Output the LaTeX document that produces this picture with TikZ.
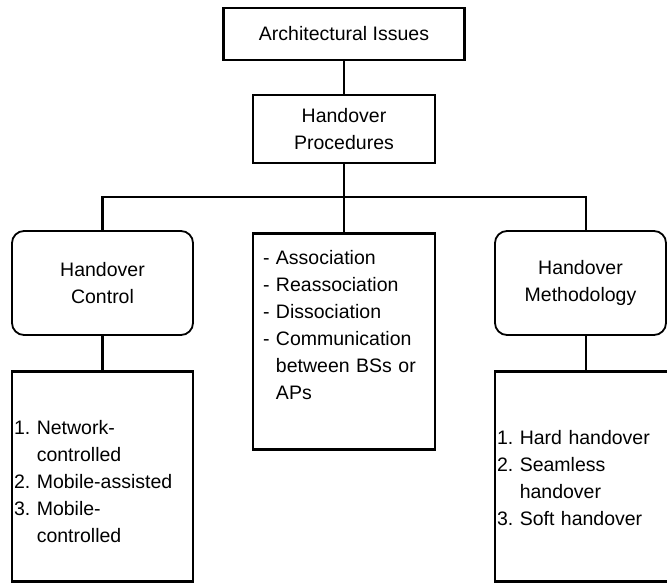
\documentclass[tikz,border=0pt]{standalone}
\usepackage{fontspec}
\setmainfont{Liberation Sans}
\usepackage{tikz}
\usetikzlibrary{positioning}
\tikzstyle{edge} = [draw,line width=2.6pt]
\tikzstyle{box} = [rectangle,draw,line width=2.6pt,inner sep=0pt,align=center,font=\fontsize{19.5pt}{27pt}\selectfont]
\tikzstyle{roundbox} = [rectangle,draw,rounded corners=12pt,line width=1.8pt,inner sep=0pt,minimum height=104pt,align=center,font=\fontsize{19.5pt}{27pt}\selectfont]
\tikzset{listbox/.style={box,anchor=north,align=left,inner xsep=2pt,text width=177pt}}

\begin{document}
\begin{tikzpicture}[x=1pt,y=-1pt]

  \useasboundingbox (0,0) rectangle (667,583);

  \node[box,minimum width=241pt,minimum height=52pt] (issues) at (344,34) {Architectural Issues};
  \node[box,minimum width=182pt,minimum height=68pt] (proc) at (344,129) {Handover\\Procedures};

  \node[box,anchor=north,align=left,inner xsep=10pt,text width=162pt,text height=31pt,text depth=185pt] (mid) at (344,232)
     {\begin{tabular}[t]{@{}l@{\ }l@{}}
      - & Association\\
      - & Reassociation\\
      - & Dissociation\\
      - & Communication\\
        & between BSs or\\
        & APs
      \end{tabular}};

  \node[roundbox,minimum width=181pt] (ctrl) at (102.5,283) {Handover\\Control};
  \node[roundbox,minimum width=171pt] (meth) at (580.5,283) {Handover\\Methodology};

  \node[listbox,text height=63pt,text depth=147pt] (ctrllist) at (102.5,370)
     {\begin{tabular}[t]{@{}l@{\ }l@{}}
      1. & Network-\\
         & controlled\\
      2. & Mobile-assisted\\
      3. & Mobile-\\
         & controlled
      \end{tabular}};
  \node[listbox,text width=178pt,text height=73pt,text depth=137pt] (methlist) at (586,370)
     {\begin{tabular}[t]{@{}l@{\ }l@{}}
      1. & Hard handover\\
      2. & Seamless\\
         & handover\\
      3. & Soft handover
      \end{tabular}};

  \coordinate (bus) at (344,197);
  \coordinate (methtop) at ([xshift=5.5pt]meth.north);
  \coordinate (methbot) at ([xshift=5.5pt]meth.south);

  \foreach \source/\dest in {issues/proc, proc/mid, ctrl/ctrllist, methbot/methlist}
         \path[edge] (\source) -- (\dest);

  \path[edge] (ctrl.north) |- (bus) -| (methtop);

\end{tikzpicture}
\end{document}
